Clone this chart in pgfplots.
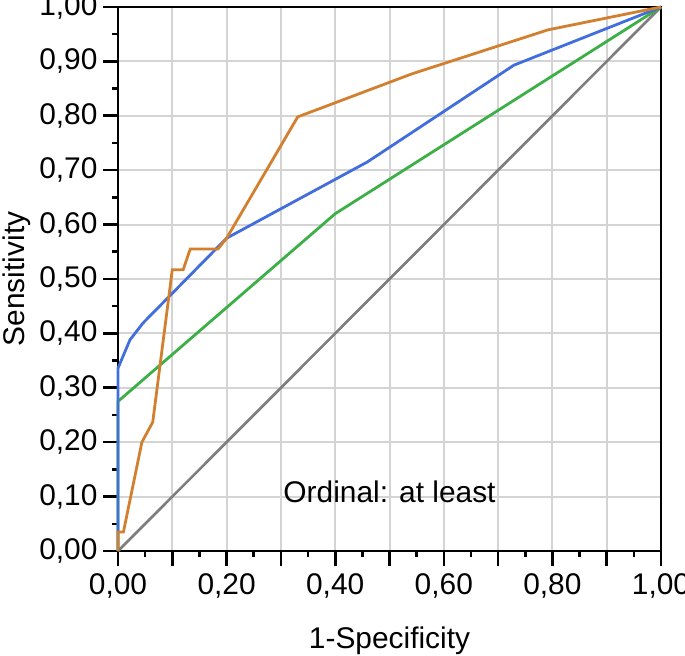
\documentclass[border=0pt]{standalone}
\usepackage{fontspec}
\setmainfont{Liberation Sans}
\usepackage{pgfplots}
\pgfplotsset{compat=1.18}
\definecolor{cblue}{RGB}{65,110,220}
\definecolor{corange}{RGB}{210,128,48}
\definecolor{cgreen}{RGB}{60,175,70}
\definecolor{cgray}{RGB}{125,125,125}
\definecolor{cgrid}{RGB}{212,212,212}
\begin{document}
\begin{tikzpicture}
\begin{axis}[
  scale only axis, width=543bp, height=544bp,
  xmin=0, xmax=1, ymin=0, ymax=1,
  axis line style={line width=2.8bp, black},
  tick align=outside, tick pos=left,
  xtick={0,0.1,0.2,0.3,0.4,0.5,0.6,0.7,0.8,0.9,1},
  ytick={0,0.1,0.2,0.3,0.4,0.5,0.6,0.7,0.8,0.9,1},
  xticklabels={{0,00},{},{0,20},{},{0,40},{},{0,60},{},{0,80},{},{1,00}},
  yticklabels={{0,00},{0,10},{0,20},{0,30},{0,40},{0,50},{0,60},{0,70},{0,80},{0,90},{1,00}},
  minor tick num=1,
  major tick length=15bp, minor tick length=6bp,
  every tick/.style={black, line width=2.6bp},
  grid=major, major grid style={color=cgrid, line width=2bp},
  tick label style={font=\fontsize{30}{33}\selectfont},
  xticklabel style={yshift=-4bp},
  yticklabel style={xshift=-2bp},
  label style={font=\fontsize{30}{33}\selectfont},
  xlabel={1-Specificity}, ylabel={Sensitivity},
  xlabel style={yshift=-22bp},
  ylabel style={yshift=2bp},
  clip=false,
]
\addplot[cgray, line width=2.6bp] coordinates {(0,0) (1,1)};
\addplot[cgreen, line width=2.8bp] coordinates {(0,0) (0,0.275) (0.4,0.62) (1,1)};
\addplot[cblue, line width=2.8bp] coordinates {(0,0) (0,0.336) (0.008,0.355) (0.022,0.388) (0.046,0.419) (0.2,0.575) (0.459,0.715) (0.729,0.893) (1,1)};
\addplot[corange, line width=2.8bp] coordinates {(0,0) (0,0.035) (0.01,0.035) (0.044,0.2) (0.064,0.237) (0.1,0.517) (0.12,0.517) (0.133,0.555) (0.184,0.555) (0.2,0.575) (0.331,0.798) (0.541,0.877) (0.792,0.958) (1,1)};
\node[font=\fontsize{30}{33}\selectfont] at (axis cs:0.5,0.108) {Ordinal: at least};
\end{axis}
\pgfresetboundingbox
\path[use as bounding box] ([shift={(-118bp,-105bp)}]current axis.south west) rectangle ([shift={(24bp,7bp)}]current axis.north east);
\end{tikzpicture}
\end{document}
